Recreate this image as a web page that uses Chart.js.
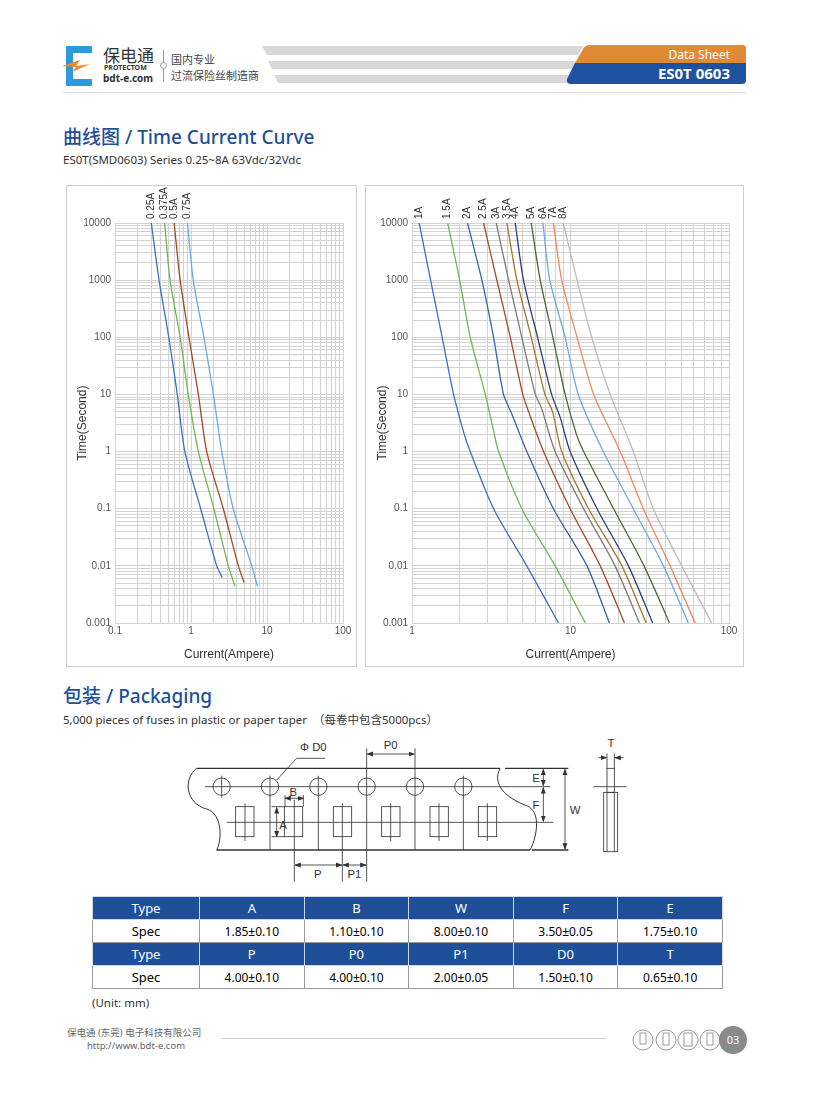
<!DOCTYPE html>
<html>
<head>
<meta charset="utf-8">
<script src="https://cdn.jsdelivr.net/npm/chart.js@4"></script>
<style>
  body { margin: 0; background: #fff; font-family: "Noto Sans", "Noto Sans CJK SC", sans-serif; }
  #page { position: relative; width: 815px; height: 1099px; overflow: hidden; }
  .abs { position: absolute; }
  .panel { position: absolute; border: 1px solid #cfcfcf; box-sizing: border-box; }
  .h2 { color: #1f4f99; font-size: 19px; font-weight: 500; }
  table.spec { position: absolute; left: 92px; top: 896px; width: 631px; border-collapse: collapse; font-size: 12px; }
  table.spec td { border: 1px solid #9a9a9a; height: 22px; text-align: center; padding: 0; }
  table.spec tr.hd td { background: #1f4f99; color: #fff; border-color: #d0d8e8; font-size: 13px; }
  table.spec td.first { width: 106px; font-size: 13px; }
</style>
</head>
<body>
<div id="page">
  <!-- header -->
  <svg class="abs" style="left:60px;top:44px" width="44" height="44" viewBox="0 0 44 44">
    <path d="M6 2 H32 V9 H13 V35 H32 V42 H6 Z" fill="#2f9ad8"/>
    <path d="M2 22 L20 16 L16 22 L30 20 L12 28 L16 23 Z" fill="#ef8a2a"/>
  </svg>
  <div class="abs" style="left:103px;top:42px;font-size:17px;color:#333">保电通</div>
  <div class="abs" style="left:104px;top:63px;font-size:7px;color:#333;font-weight:bold">PROTECTOM</div>
  <div class="abs" style="left:103px;top:71px;font-size:10px;color:#333;font-weight:bold">bdt-e.com</div>
  <div class="abs" style="left:163px;top:50px;width:1px;height:32px;background:#999"></div>
  <div class="abs" style="left:160px;top:62px;width:5px;height:5px;border:1px solid #999;border-radius:50%;background:#fff"></div>
  <div class="abs" style="left:171px;top:51px;font-size:11px;color:#444">国内专业</div>
  <div class="abs" style="left:171px;top:67px;font-size:11px;color:#444">过流保险丝制造商</div>
  <svg class="abs" style="left:255px;top:40px" width="500" height="50">
    <polygon points="7,6 328,6 323,15 12,15" fill="#d8d8d8"/>
    <polygon points="13,21 322,21 318,29 17,29" fill="#d8d8d8"/>
    <polygon points="19,35 316,35 312,43 23,43" fill="#d8d8d8"/>
    <path d="M328,9 Q330,5 336,5 H488 Q491,5 491,9 V23 H320 Z" fill="#e08a35"/>
    <path d="M320,23 H491 V40 Q491,44 487,44 H316 Q311,44 312,39 Z" fill="#1c52a0"/>
    <text x="475" y="19" text-anchor="end" fill="#fff" font-size="12" font-family="Noto Sans">Data Sheet</text>
    <text x="475" y="39" text-anchor="end" fill="#fff" font-size="15" font-weight="bold" font-family="Noto Sans">ES0T 0603</text>
  </svg>
  <div class="abs" style="left:63px;top:92px;width:683px;height:1px;background:#ddd"></div>

  <div class="abs h2" style="left:63px;top:122px">曲线图 / Time Current Curve</div>
  <div class="abs" style="left:63px;top:152px;font-size:11.5px;color:#333">ES0T(SMD0603) Series 0.25~8A 63Vdc/32Vdc</div>

  <div class="panel" style="left:66px;top:185px;width:291px;height:482px"></div>
  <div class="panel" style="left:365px;top:185px;width:379px;height:482px"></div>
  <div class="abs" style="left:66px;top:185px;width:290px;height:481px"><canvas id="leftChart"></canvas></div>
  <div class="abs" style="left:365px;top:185px;width:378px;height:481px"><canvas id="rightChart"></canvas></div>

  <div class="abs h2" style="left:63px;top:681px">包装 / Packaging</div>
  <div class="abs" style="left:63px;top:711px;font-size:11.5px;color:#333">5,000 pieces of fuses in plastic or paper taper &nbsp;（每卷中包含5000pcs）</div>

  <svg class="abs" style="left:180px;top:735px" width="460" height="150" viewBox="0 0 1380 450" fill="none" stroke="#333" stroke-width="2.5" font-family="Liberation Sans" font-size="34">
    <defs>
      <marker id="ar" markerWidth="8" markerHeight="8" refX="7" refY="4" orient="auto-start-reverse"><path d="M0,1 L8,4 L0,7 Z" fill="#333" stroke="none"/></marker>
    </defs>
    <line x1="50" y1="100" x2="960" y2="100" stroke-width="4"/>
    <line x1="975" y1="100" x2="1165" y2="100" stroke-width="4"/>
    <line x1="110" y1="345" x2="1050" y2="345" stroke-width="4"/>
    <line x1="1055" y1="345" x2="1165" y2="345" stroke-width="4"/>
    <path d="M50,100 C10,130 15,205 80,222 C130,238 125,320 110,345" stroke-width="3"/>
    <path d="M960,100 C935,150 980,190 1040,212 C1090,232 1065,320 1050,345" stroke-width="3"/>
    <line x1="75" y1="155" x2="1110" y2="155"/>
    <line x1="140" y1="262" x2="1120" y2="262"/>
    <g>
      <circle cx="125" cy="155" r="26"/><circle cx="270" cy="155" r="26"/><circle cx="415" cy="155" r="26"/>
      <circle cx="560" cy="155" r="26"/><circle cx="705" cy="155" r="26"/><circle cx="850" cy="155" r="26"/>
      <line x1="125" y1="122" x2="125" y2="188"/><line x1="270" y1="122" x2="270" y2="345"/>
      <line x1="415" y1="122" x2="415" y2="345"/><line x1="560" y1="40" x2="560" y2="440"/>
      <line x1="705" y1="40" x2="705" y2="345"/><line x1="850" y1="122" x2="850" y2="345"/>
    </g>
    <g>
      <rect x="167" y="215" width="55" height="90"/><rect x="313" y="215" width="55" height="90"/>
      <rect x="460" y="215" width="55" height="90"/><rect x="605" y="215" width="55" height="90"/>
      <rect x="750" y="215" width="55" height="90"/><rect x="895" y="215" width="55" height="90"/>
      <line x1="195" y1="205" x2="195" y2="318"/><line x1="343" y1="195" x2="343" y2="440"/>
      <line x1="487" y1="205" x2="487" y2="440"/><line x1="632" y1="205" x2="632" y2="318"/>
      <line x1="777" y1="205" x2="777" y2="318"/><line x1="922" y1="205" x2="922" y2="318"/>
    </g>
    <line x1="315" y1="190" x2="370" y2="190" marker-start="url(#ar)" marker-end="url(#ar)"/>
    <line x1="315" y1="180" x2="315" y2="215"/><line x1="370" y1="180" x2="370" y2="215"/>
    <text x="340" y="182" text-anchor="middle" fill="#333" stroke="none">B</text>
    <line x1="290" y1="218" x2="290" y2="305" marker-start="url(#ar)" marker-end="url(#ar)"/>
    <line x1="275" y1="215" x2="313" y2="215"/><line x1="275" y1="305" x2="313" y2="305"/>
    <text x="298" y="282" fill="#333" stroke="none">A</text>
    <line x1="345" y1="390" x2="485" y2="390" marker-start="url(#ar)" marker-end="url(#ar)"/>
    <text x="413" y="428" text-anchor="middle" fill="#333" stroke="none">P</text>
    <line x1="489" y1="390" x2="558" y2="390" marker-start="url(#ar)" marker-end="url(#ar)"/>
    <text x="523" y="428" text-anchor="middle" fill="#333" stroke="none">P1</text>
    <line x1="562" y1="57" x2="703" y2="57" marker-start="url(#ar)" marker-end="url(#ar)"/>
    <text x="632" y="42" text-anchor="middle" fill="#333" stroke="none">P0</text>
    <text x="400" y="48" text-anchor="middle" fill="#333" stroke="none">Φ D0</text>
    <polyline points="435,70 350,70 290,135"/>
    <line x1="1090" y1="103" x2="1090" y2="152" marker-start="url(#ar)" marker-end="url(#ar)"/>
    <text x="1068" y="140" text-anchor="middle" fill="#333" stroke="none">E</text>
    <line x1="1090" y1="158" x2="1090" y2="259" marker-start="url(#ar)" marker-end="url(#ar)"/>
    <text x="1068" y="222" text-anchor="middle" fill="#333" stroke="none">F</text>
    <line x1="1155" y1="103" x2="1155" y2="342" marker-start="url(#ar)" marker-end="url(#ar)"/>
    <text x="1185" y="236" text-anchor="middle" fill="#333" stroke="none">W</text>
    <rect x="1281" y="100" width="22" height="72"/>
    <rect x="1271" y="172" width="42" height="178"/>
    <line x1="1281" y1="172" x2="1281" y2="350"/><line x1="1303" y1="172" x2="1303" y2="350"/>
    <line x1="1240" y1="155" x2="1340" y2="155"/>
    <line x1="1281" y1="55" x2="1281" y2="100"/><line x1="1303" y1="55" x2="1303" y2="100"/>
    <line x1="1255" y1="68" x2="1279" y2="68" marker-end="url(#ar)"/>
    <line x1="1330" y1="68" x2="1305" y2="68" marker-end="url(#ar)"/>
    <text x="1293" y="35" text-anchor="middle" fill="#333" stroke="none">T</text>
  </svg>

  <table class="spec">
    <tr class="hd"><td class="first">Type</td><td>A</td><td>B</td><td>W</td><td>F</td><td>E</td></tr>
    <tr><td class="first">Spec</td><td>1.85±0.10</td><td>1.10±0.10</td><td>8.00±0.10</td><td>3.50±0.05</td><td>1.75±0.10</td></tr>
    <tr class="hd"><td class="first">Type</td><td>P</td><td>P0</td><td>P1</td><td>D0</td><td>T</td></tr>
    <tr><td class="first">Spec</td><td>4.00±0.10</td><td>4.00±0.10</td><td>2.00±0.05</td><td>1.50±0.10</td><td>0.65±0.10</td></tr>
  </table>
  <div class="abs" style="left:92px;top:995px;font-size:11.5px;color:#333">(Unit: mm)</div>

  <!-- footer -->
  <div class="abs" style="left:67px;top:1025px;font-size:9.5px;color:#666">保电通 (东莞) 电子科技有限公司</div>
  <div class="abs" style="left:87px;top:1039px;font-size:9.5px;color:#666">http://www.bdt-e.com</div>
  <div class="abs" style="left:222px;top:1038px;width:384px;height:1px;background:#ccc"></div>
  <svg class="abs" style="left:620px;top:1022px" width="130" height="36" fill="none" stroke="#999" stroke-width="1">
    <circle cx="23" cy="18" r="10"/><circle cx="46" cy="18" r="10"/><circle cx="68" cy="18" r="10"/><circle cx="90" cy="18" r="10"/>
    <rect x="20" y="11" width="6" height="11"/><rect x="43" y="11" width="6" height="12"/><rect x="64" y="11" width="8" height="13"/><rect x="87" y="11" width="6" height="12"/>
    <circle cx="113" cy="18" r="14" fill="#8a8a8a" stroke="none"/>
    <text x="113" y="22" text-anchor="middle" fill="#fff" stroke="none" font-size="11" font-family="Noto Sans">03</text>
  </svg>
</div>

<script>
// left chart: 0.25A - 0.75A
const leftLabels = ['0.25A', '0.375A', '0.5A', '0.75A'];
const leftColors = ['#3f6fc6', '#74b455', '#a34a2a', '#6eaadd'];
const leftTimes = [10000, 1000, 100, 10, 1, 0.1, 0.01];
const leftCurrents = [
  [0.30, 0.38, 0.51, 0.66, 0.83, 1.34, 2.18],
  [0.45, 0.53, 0.72, 0.92, 1.25, 2.00, 3.10],
  [0.60, 0.72, 0.94, 1.25, 1.61, 2.66, 4.20],
  [0.90, 1.07, 1.48, 1.97, 2.54, 3.60, 6.30],
];
// [current, time] where each curve ends
const leftEnds = [[2.58, 0.0062], [3.79, 0.0044], [5.0, 0.0051], [7.5, 0.0044]];

// right chart: 1A - 8A
const rightLabels = ['1A', '1.5A', '2A', '2.5A', '3A', '3.5A', '4A', '5A', '6A', '7A', '8A'];
const rightColors = ['#3f6fc6', '#74b455', '#3a62a8', '#a34a2a', '#7a7a7a', '#a07a2c', '#2c3f78', '#466a3a', '#6eaadd', '#ef8a5c', '#bcbcbc'];
const rightTimes = [10000, 1000, 100, 10, 1, 0.1, 0.01, 0.001];
const rightCurrents = [
  [1.11, 1.31, 1.55, 1.83, 2.33, 3.27, 5.3, 8.4],
  [1.68, 2.00, 2.33, 2.90, 3.52, 4.93, 8.0, 12.4],
  [2.24, 2.76, 3.27, 3.78, 5.30, 7.80, 12.7, 17.6],
  [2.83, 3.43, 4.17, 5.00, 6.76, 9.95, 15.4, 21.9],
  [3.40, 4.07, 4.93, 6.00, 8.00, 12.1, 19.1, 27.2],
  [3.97, 4.59, 5.65, 6.90, 8.80, 13.0, 21.1, 30.0],
  [4.48, 5.05, 6.20, 7.60, 9.95, 14.7, 23.2, 33.0],
  [5.65, 6.44, 7.74, 9.25, 12.1, 18.7, 29.1, 42.1],
  [6.70, 7.40, 9.25, 11.2, 16.1, 24.9, 38.6, 55.4],
  [7.80, 8.80, 11.0, 14.0, 20.6, 28.8, 42.5, 61.1],
  [9.00, 11.0, 13.6, 17.8, 24.9, 33.3, 50.3, 77.8],
];
// [current, time] knee points between the 10 s and 1 s readings
const rightKnees = [
  [2.14, 1.97], [3.27, 2.3], [4.27, 4.5], [5.44, 5.0], [6.53, 6.0],
  [7.7, 5.0], [8.6, 4.0], [10.9, 2.0], null, null, null,
];

const gridColor = '#d3d3d3';
const textColor = '#555';

function logTicks(min, max) {
  const out = [];
  for (let e = Math.round(Math.log10(min)); e < Math.round(Math.log10(max)); e++) {
    for (let k = 1; k < 10; k++) out.push({ value: k * Math.pow(10, e) });
  }
  out.push({ value: max });
  return out;
}

function isPow10(v) {
  const l = Math.log10(v);
  return Math.abs(l - Math.round(l)) < 1e-9;
}

function fmt(v) {
  return v >= 1 ? String(Math.round(v)) : String(+v.toPrecision(1));
}

const topLabels = {
  id: 'topLabels',
  afterDatasetsDraw(chart) {
    const ctx = chart.ctx;
    const xs = chart.scales.x;
    ctx.save();
    ctx.fillStyle = '#333';
    ctx.font = '10px "Liberation Sans", sans-serif';
    ctx.textAlign = 'left';
    ctx.textBaseline = 'middle';
    chart.data.datasets.forEach(ds => {
      const px = xs.getPixelForValue(ds.data[0].x);
      ctx.save();
      ctx.translate(px, chart.chartArea.top - 4);
      ctx.rotate(-Math.PI / 2);
      ctx.fillText(ds.label, 0, 0);
      ctx.restore();
    });
    ctx.restore();
  },
};

function makeChart(id, labels, colors, currents, times, ends, knees, xMin, xMax, yAxisWidth, padLeft, padRight) {
  const datasets = labels.map((lab, i) => {
    const pts = currents[i].map((c, j) => ({ x: c, y: times[j] }));
    if (ends) pts.push({ x: ends[i][0], y: ends[i][1] });
    if (knees && knees[i]) pts.push({ x: knees[i][0], y: knees[i][1] });
    pts.sort((a, b) => b.y - a.y);
    return {
      label: lab,
      data: pts,
      borderColor: colors[i],
      borderWidth: 1.3,
      pointRadius: 0,
      tension: 0.25,
    };
  });
  new Chart(document.getElementById(id), {
    type: 'line',
    data: { datasets },
    options: {
      responsive: true,
      maintainAspectRatio: false,
      animation: false,
      layout: { padding: { top: 38, right: padRight, left: padLeft, bottom: 0 } },
      plugins: { legend: { display: false }, tooltip: { enabled: false } },
      scales: {
        x: {
          type: 'logarithmic', min: xMin, max: xMax,
          afterBuildTicks: s => { s.ticks = logTicks(xMin, xMax); },
          afterFit: s => { s.height = 43; },
          ticks: { autoSkip: false, maxRotation: 0, color: textColor, font: { size: 10 }, padding: 2,
            callback: v => isPow10(v) ? fmt(v) : '' },
          grid: { color: gridColor, tickLength: 0, drawTicks: false },
          border: { color: gridColor },
          title: { display: true, text: 'Current(Ampere)', color: '#333', font: { size: 12 }, padding: { top: 8 } },
        },
        y: {
          type: 'logarithmic', min: 0.001, max: 10000,
          afterBuildTicks: s => { s.ticks = logTicks(0.001, 10000); },
          afterFit: s => { s.width = yAxisWidth; },
          ticks: { autoSkip: false, color: textColor, font: { size: 10 }, padding: 4,
            callback: v => isPow10(v) ? fmt(v) : '' },
          grid: { color: gridColor, drawTicks: false },
          border: { color: gridColor },
          title: { display: true, text: 'Time(Second)', color: '#333', font: { size: 12 }, padding: 0 },
        },
      },
    },
    plugins: [topLabels],
  });
}

makeChart('leftChart', leftLabels, leftColors, leftCurrents, leftTimes, leftEnds, null, 0.1, 100, 40, 9, 13);
makeChart('rightChart', rightLabels, rightColors, rightCurrents, rightTimes, null, rightKnees, 1, 100, 37, 10, 14);
</script>
</body>
</html>
